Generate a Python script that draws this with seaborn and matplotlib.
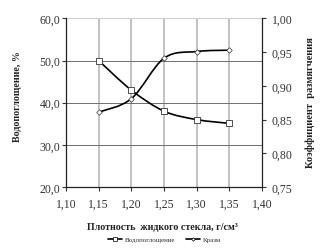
import numpy as np
import pandas as pd
import matplotlib
matplotlib.use("Agg")
import matplotlib.pyplot as plt
from matplotlib.path import Path
from matplotlib.patches import PathPatch
from matplotlib.lines import Line2D
import seaborn as sns

density = [1.15, 1.20, 1.25, 1.30, 1.35]
water_absorption = [50.0, 43.0, 38.0, 36.0, 35.1]
softening = [0.861, 0.881, 0.941, 0.951, 0.953]

x_ticks = [1.10, 1.15, 1.20, 1.25, 1.30, 1.35, 1.40]
y1_ticks = [20, 30, 40, 50, 60]
y2_ticks = [0.75, 0.80, 0.85, 0.90, 0.95, 1.00]

sns.set_style("white")
plt.rcParams['font.family'] = ['Liberation Serif', 'DejaVu Serif']

fig = plt.figure(figsize=(3.26, 2.53), dpi=100)
ax = fig.add_axes([0.2025, 0.257, 0.601, 0.666])
ax2 = ax.twinx()

def smooth_path(xs, ys):
    pts = np.column_stack([xs, ys]).astype(float)
    n = len(pts)
    verts = [pts[0]]
    codes = [Path.MOVETO]
    for i in range(n - 1):
        p0 = pts[i - 1] if i > 0 else pts[i]
        p1 = pts[i]
        p2 = pts[i + 1]
        p3 = pts[i + 2] if i + 2 < n else pts[i + 1]
        c1 = p1 + (p2 - p0) / 6.0
        c2 = p2 - (p3 - p1) / 6.0
        verts += [c1, c2, p2]
        codes += [Path.CURVE4] * 3
    return Path(verts, codes)

df = pd.DataFrame({"x": density, "w": water_absorption, "k": softening})

ax.add_patch(PathPatch(smooth_path(density, water_absorption), fill=False,
                       edgecolor='black', lw=1.2, zorder=3))
sns.scatterplot(data=df, x="x", y="w", ax=ax, marker='s', s=14,
                facecolor='white', edgecolor='#333333', linewidth=0.6, zorder=4)
ax2.add_patch(PathPatch(smooth_path(density, softening), fill=False,
                        edgecolor='black', lw=1.2, zorder=3))
sns.scatterplot(data=df, x="x", y="k", ax=ax2, marker='D', s=8,
                facecolor='white', edgecolor='#333333', linewidth=0.5, zorder=4)

ax.set_xlim(1.10, 1.40)
ax.set_ylim(20, 60)
ax2.set_ylim(0.75, 1.00)
ax.set_xticks(x_ticks)
ax.set_yticks(y1_ticks)
ax2.set_yticks(y2_ticks)
ax.set_xticklabels([f"{v:.2f}".replace('.', ',') for v in x_ticks])
ax.set_yticklabels([f"{v:.1f}".replace('.', ',') for v in y1_ticks])
ax2.set_yticklabels([f"{v:.2f}".replace('.', ',') for v in y2_ticks])

for a in (ax, ax2):
    a.tick_params(axis='both', labelsize=8.5, length=3, width=0.8, direction='out', pad=1,
                  colors='#333333', labelcolor='#333333')
ax.tick_params(axis='x', pad=5)
ax2.tick_params(axis='y', pad=4)
ax.set_xlabel("")
ax.set_ylabel("")
ax2.set_ylabel("")

# gridlines
for xv in x_ticks[1:-1]:
    ax.axvline(xv, color='#bdbdbd', lw=1.3, zorder=1)
for yv in y1_ticks[1:-1]:
    ax.axhline(yv, color='#6e6e6e', lw=0.7, zorder=1)
ax.axhline(60, color='#cfcfcf', lw=0.8, zorder=1)

for a in (ax, ax2):
    for s in a.spines.values():
        s.set_visible(False)
ax.spines['left'].set_visible(True)
ax.spines['bottom'].set_visible(True)
ax2.spines['right'].set_visible(True)
for s in (ax.spines['left'], ax.spines['bottom'], ax2.spines['right']):
    s.set_color('#222222')
    s.set_linewidth(0.9)
ax.yaxis.set_ticks_position('left')
ax2.yaxis.set_ticks_position('right')
ax.xaxis.set_ticks_position('bottom')

fig.text(0.055, 0.619, "Водопоглощение, %", rotation=90, ha='center', va='center',
         fontsize=7.2, fontweight='bold', color='#222222')
fig.text(0.951, 0.593, "Коэффициент  размягчения", rotation=90, ha='center', va='center',
         fontsize=7.5, fontweight='bold', color='#222222')
fig.text(0.497, 0.099, "Плотность  жидкого стекла, г/см³", ha='center', va='center',
         fontsize=7.2, fontweight='bold', color='#222222')

handles = [Line2D([0], [0], color='black', lw=1.2, marker='s', markersize=2.2,
                  markerfacecolor='white', markeredgewidth=0.5),
           Line2D([0], [0], color='black', lw=1.2, marker='D', markersize=1.8,
                  markerfacecolor='white', markeredgewidth=0.5)]
fig.legend(handles, ["Водопоглощение", "Кразм"], loc='center', bbox_to_anchor=(0.505, 0.051),
           ncol=2, frameon=False, fontsize=5, handlelength=2.0, handletextpad=0.4,
           columnspacing=1.5, labelcolor='#333333')

fig.savefig("out.png", dpi=100, facecolor='white')
